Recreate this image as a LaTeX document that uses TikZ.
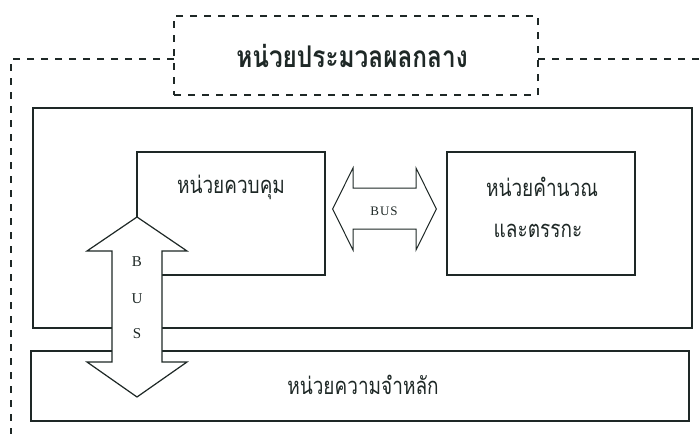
\documentclass[tikz,border=0pt]{standalone}
\usepackage{fontspec}
\usepackage{graphicx}
\newfontfamily\thai[Script=Thai]{Loma}
\newfontfamily\busfont{Liberation Serif}
\usetikzlibrary{calc}
\definecolor{ink}{RGB}{30,40,38}
\newcommand{\tall}[1]{\scalebox{1}[1.25]{#1}}
\newcommand{\talltitle}[1]{\scalebox{1.06}[1.3]{#1}}
\begin{document}
\begin{tikzpicture}[x=1pt,y=-1pt,
  solidbox/.style={draw=ink,line width=1.3pt,rectangle,inner sep=0pt},
  dashbox/.style={draw=ink,line width=1.3pt,dash pattern=on 7pt off 7pt,rectangle,inner sep=0pt},
  dashline/.style={draw=ink,line width=1.3pt,dash pattern=on 7pt off 7pt},
  thaitext/.style={text=ink,font=\thai\fontsize{19}{20}\selectfont,inner sep=0pt},
  titletext/.style={text=ink,font=\thai\bfseries\fontsize{23}{24}\selectfont,inner sep=0pt},
  busletter/.style={text=ink,font=\busfont\fontsize{15}{15}\selectfont,inner sep=0pt},
  busarrow/.style={draw=ink,line width=1.2pt,fill=white,line join=miter}
]
\useasboundingbox (0,0) rectangle (699,434);
\fill[white] (0,0) rectangle (699,434);

% title box
\node[dashbox,minimum width=364pt,minimum height=79pt] (title) at (356,55.5) {};
\node[titletext] (titletxt) at (352,56) {\talltitle{หน่วยประมวลผลกลาง}};
\coordinate (tl) at (174,59);
\coordinate (tr) at (538,59);
\coordinate (lcorner) at (11,59);
\coordinate (lend) at (11,434);
\coordinate (rend) at (699,59);
\draw[dashline] (tl) -- (lcorner) -- (lend);
\draw[dashline] (tr) -- (rend);

% CPU outer box
\node[solidbox,minimum width=659pt,minimum height=220pt] (cpu) at (362.5,218) {};
% main memory
\node[solidbox,minimum width=658pt,minimum height=70pt] (mem) at (360,386) {};
\node[thaitext] (memtxt) at (363,385) {\tall{หน่วยความจำหลัก}};
% control unit
\node[solidbox,minimum width=188pt,minimum height=123pt] (ctl) at (231,213.5) {};
\node[thaitext] (ctltxt) at (231,187) {\tall{หน่วยควบคุม}};
% ALU
\node[solidbox,minimum width=188pt,minimum height=123pt] (alu) at (541,213.5) {};
\node[thaitext] (alutxt1) at (542,187) {\tall{หน่วยคำนวณ}};
\node[thaitext] (alutxt2) at (538,231) {\tall{และตรรกะ}};

% vertical bus arrow (control <-> memory)
\coordinate (vtop) at (137,217);
\coordinate (vbot) at (137,397);
\draw[busarrow] (vtop) -- (187,251) -- (162,251) -- (162,362) -- (187,362)
  -- (vbot) -- (87,362) -- (112,362) -- (112,251) -- (87,251) -- cycle;
\node[busletter] (bB) at (137,262) {B};
\node[busletter] (bU) at (137,299) {U};
\node[busletter] (bS) at (137,334) {S};

% horizontal bus arrow (control <-> ALU)
\coordinate (hleft) at ($(ctl.east)+(7,-4.5)$);
\coordinate (hright) at ($(alu.west)+(-10,-4.5)$);
\draw[busarrow,line width=1pt] (hleft) -- (353,168) -- (353,188) -- (416,188) -- (416,168)
  -- (hright) -- (416,250) -- (416,229) -- (353,229) -- (353,250) -- cycle;
\node[busletter,font=\busfont\fontsize{13}{13}\selectfont] (hbus) at (384,211) {B\kern1ptU\kern1ptS};
\end{tikzpicture}
\end{document}
